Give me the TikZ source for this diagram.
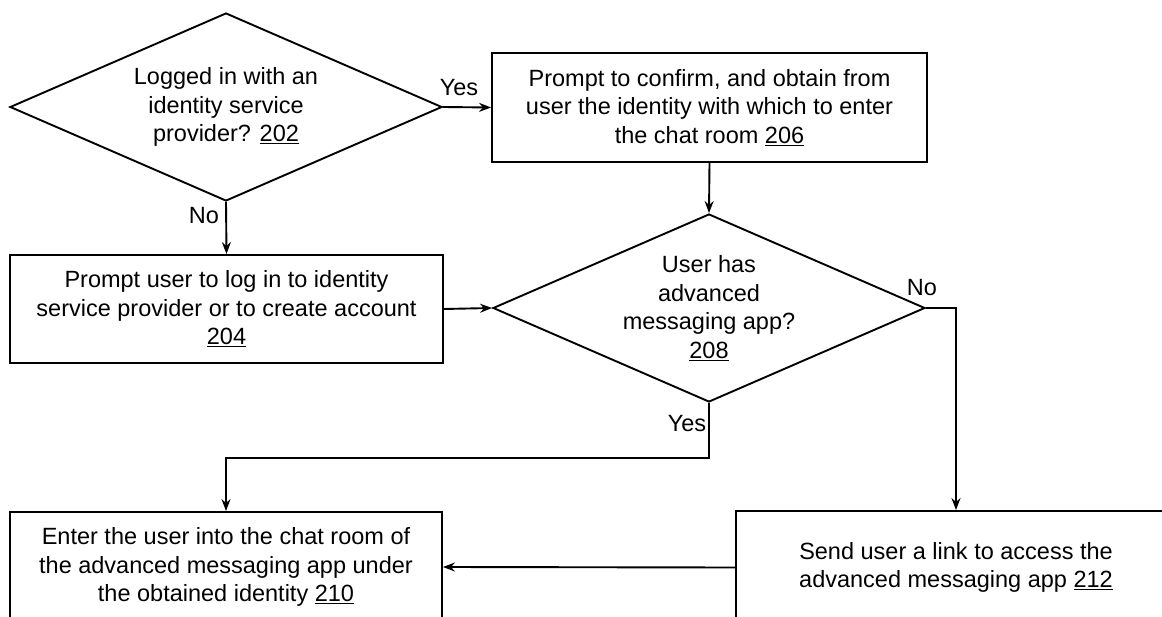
\documentclass[tikz,border=0pt]{standalone}
\usepackage{fontspec}
\setmainfont{Liberation Sans}
\usetikzlibrary{shapes.geometric,arrows.meta}

\begin{document}
\begin{tikzpicture}[x=1pt,y=-1pt,
  txt/.style={font=\fontsize{23.5}{28.5}\selectfont, align=center, inner sep=0pt},
  flow/.style={line width=1.9pt, -{Stealth[length=12pt,width=9pt,inset=4pt]}},
  stepbox/.style={draw, line width=1.9pt, rectangle, inner sep=0pt, txt},
  decision/.style={draw, line width=1.9pt, diamond, inner sep=0pt,
    minimum width=432pt, minimum height=188pt},
  lbl/.style={font=\fontsize{23.5}{26}\selectfont, inner sep=0pt}]

\useasboundingbox (0,0) rectangle (1162,617);
\clip (0,0) rectangle (1162,617);

% decisions and steps
\node[decision] (d202) at (226,107) {};
\node[txt] (t202) at (d202.center)
  {Logged in with an\\identity service\\provider? \underline{202}};
\node[stepbox, minimum width=435pt, minimum height=109pt] (b206) at (709.5,107.5)
  {Prompt to confirm, and obtain from\\user the identity with which to enter\\the chat room \underline{206}};
\node[stepbox, minimum width=433pt, minimum height=108pt] (b204) at (226.5,309)
  {Prompt user to log in to identity\\service provider or to create account\\\underline{204}};
\node[decision] (d208) at (709,308) {};
\node[txt] (t208) at (d208.center)
  {User has\\advanced\\messaging app?\\\underline{208}};
\node[stepbox, minimum width=432pt, minimum height=110pt] (b210) at (226,567)
  {Enter the user into the chat room of\\the advanced messaging app under\\the obtained identity \underline{210}};
\node[stepbox, minimum width=440pt, minimum height=113pt] (b212) at (956,567.5)
  {Send user a link to access the\\advanced messaging app \underline{212}};

% connectors
\draw[flow] (d202.east) -- (b206.west);
\node[lbl] (yes1) at (459,88) {Yes};
\draw[flow] (d202.south) -- (b204.north);
\node[lbl] (no1) at (204,216) {No};
\draw[flow] (b206.south) -- (d208.north);
\draw[flow] (b204.east) -- (d208.west);
\draw[flow] (d208.east) -| (b212.north);
\node[lbl] (no2) at (922,288) {No};
\draw[flow] (d208.south) -- ++(0,55) -| (b210.north);
\node[lbl] (yes2) at (687,424) {Yes};
\draw[flow] (b212.west) -- (b210.east);
\end{tikzpicture}
\end{document}
